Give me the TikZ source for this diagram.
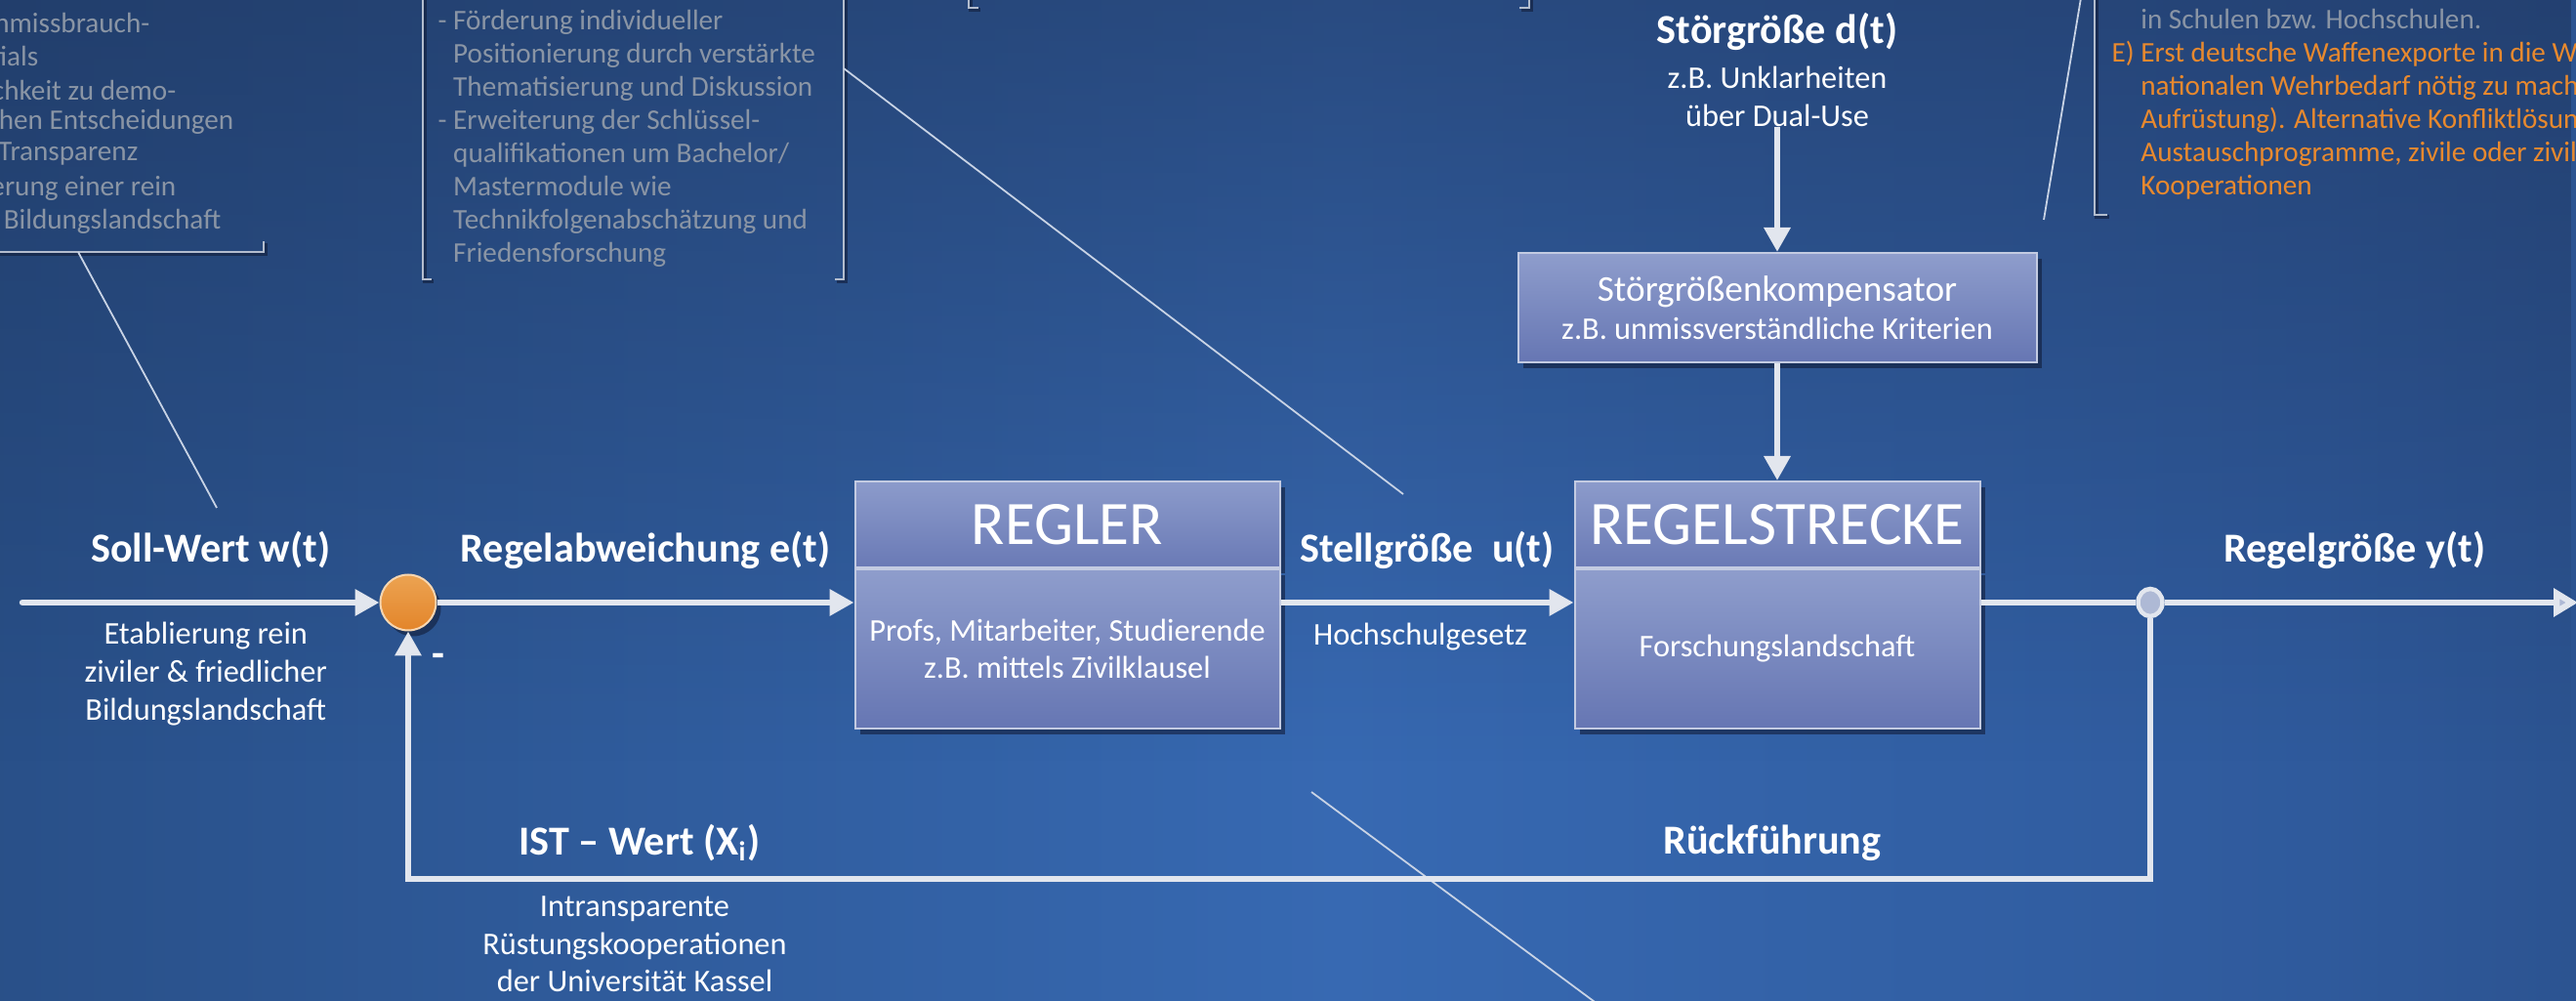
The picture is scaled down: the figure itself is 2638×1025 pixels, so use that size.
\documentclass[tikz,border=0pt]{standalone}
\usepackage{fontspec}
\setmainfont{Carlito}
\usetikzlibrary{positioning, arrows.meta, shapes.geometric, shadows, fadings}

\definecolor{bgl0}{HTML}{1A2B4C}
\definecolor{bgl1}{HTML}{24477A}
\definecolor{bgin}{HTML}{3769B2}
\definecolor{bgr1}{HTML}{2F5A9C}
\definecolor{bgr2}{HTML}{27497F}
\definecolor{bgr3}{HTML}{21396A}
\definecolor{bgr4}{HTML}{1C2F55}
\definecolor{bgtop}{HTML}{1B2D50}
\definecolor{flowgray}{HTML}{E2E6EE}
\definecolor{boxtop}{HTML}{8C9BCB}
\definecolor{boxbot}{HTML}{6676B3}
\definecolor{boxline}{HTML}{C3CBE2}
\definecolor{shadowblue}{HTML}{111C38}
\definecolor{sumtop}{HTML}{ECA352}
\definecolor{sumbot}{HTML}{E3852A}
\definecolor{notegray}{HTML}{8A95A5}
\definecolor{noteorange}{HTML}{E8892E}
\definecolor{bracketgray}{HTML}{B3BDCE}
\definecolor{dotfill}{HTML}{AEB9D5}

\pgfdeclarehorizontalshading{bgshade}{100bp}{color(0bp)=(bgl0); color(16bp)=(bgl1); color(51bp)=(bgin); color(70bp)=(bgr1); color(83bp)=(bgr2); color(92.5bp)=(bgr3); color(100bp)=(bgr4)}
\tikzfading[name=topfade, top color=transparent!50, bottom color=transparent!100]

\newcommand{\lblfont}{\fontsize{12}{14}\selectfont\bfseries}
\newcommand{\descfont}{\fontsize{9.2}{11}\selectfont}
\newcommand{\notefont}{\fontsize{8.3}{9.67}\selectfont}

\begin{document}
\begin{tikzpicture}[x=0.1mm, y=-0.1mm, >={Triangle[length=2.5mm,width=2.6mm]},
  flow/.style={draw=flowgray, line width=0.65mm},
  leader/.style={draw=flowgray!85!bgin, line width=0.18mm},
  bracket/.style={draw=bracketgray, line width=0.25mm},
  bracketshadow/.style={draw=shadowblue, line width=0.35mm, opacity=0.6},
  boxshadow/.style={drop shadow={shadow xshift=0.5mm, shadow yshift=-0.6mm, fill=shadowblue, opacity=0.6}},
  blockhead/.style={rectangle, draw=boxline, line width=0.2mm, top color=boxtop, bottom color=boxbot!90!boxtop, text=white, font=\fontsize{18}{20}\selectfont, inner sep=0pt, minimum height=8.8mm, boxshadow},
  blockbody/.style={rectangle, draw=boxline, line width=0.2mm, top color=boxtop!98!white, bottom color=boxbot, text=white, font=\descfont, align=center, inner sep=0pt, boxshadow},
  sumdot/.style={circle, minimum size=5.7mm, inner sep=0pt, draw=sumtop!45!white, line width=0.2mm, top color=sumtop, bottom color=sumbot, boxshadow},
  branchdot/.style={ellipse, minimum width=2.5mm, minimum height=2.8mm, inner sep=0pt, draw=flowgray, line width=0.45mm, fill=dotfill},
  lbl/.style={text=white, font=\lblfont, inner sep=0pt},
  desc/.style={text=white, font=\descfont, align=center, inner sep=0pt},
  notetext/.style={text=notegray, font=\notefont, inner sep=0pt}]

  \useasboundingbox (0,0) rectangle (2638,1025);
  \clip (0,0) rectangle (2638,1025);
  \shade[shading=bgshade] (0,0) rectangle (2638,1025);
  \fill[bgtop, path fading=topfade] (0,0) rectangle (2638,780);

  % notes at the top
  \draw[bracketshadow] (-20,260) -- (272,260) -- (272,249);
  \draw[bracket] (-20,258) -- (270,258) -- (270,247);
  \foreach \y/\r/\t in {23/154/nmissbrauch-, 57/40/tials, 92/181/chkeit zu demo-, 125/240/hen Entscheidungen, 158/142/Transparenz, 193/181/erung einer rein, 227/227/Bildungslandschaft}
    \node[notetext, anchor=east] (leftnote\y) at (\r,\y) {\t};

  \draw[bracketshadow] (435,-20) -- (435,288) -- (444,288);
  \draw[bracket] (433,-20) -- (433,286) -- (442,286);
  \draw[bracketshadow] (866,-20) -- (866,288) -- (857,288);
  \draw[bracket] (864,-20) -- (864,286) -- (855,286);
  \node[notetext, anchor=west, align=left] (midnote) at (448,142) {- Förderung individueller\\\phantom{- }Positionierung durch verstärkte\\\phantom{- }Thematisierung und Diskussion\\- Erweiterung der Schlüssel-\\\phantom{- }qualifikationen um Bachelor/\\\phantom{- }Mastermodule wie\\\phantom{- }Technikfolgenabschätzung und\\\phantom{- }Friedensforschung};

  \draw[bracketshadow] (994,-20) -- (994,10) -- (1004,10);
  \draw[bracket] (992,-20) -- (992,8) -- (1002,8);
  \draw[bracketshadow] (1568,-20) -- (1568,10) -- (1558,10);
  \draw[bracket] (1566,-20) -- (1566,8) -- (1556,8);

  \draw[bracketshadow] (2147,-20) -- (2147,222) -- (2160,222);
  \draw[bracket] (2145,-20) -- (2145,220) -- (2158,220);
  \node[notetext, text=noteorange, anchor=west, align=left] (rightnote) at (2162,106) {\textcolor{notegray}{\phantom{E) }in Schulen bzw. Hochschulen.}\\E) Erst deutsche Waffenexporte in die W\\\phantom{E) }nationalen Wehrbedarf nötig zu mach\\\phantom{E) }Aufrüstung). Alternative Konfliktlösun\\\phantom{E) }Austauschprogramme, zivile oder zivil\\\phantom{E) }Kooperationen};

  % pointers
  \coordinate (lead1a) at (80,258);    \coordinate (lead1b) at (222,520);
  \coordinate (lead2a) at (864,70);    \coordinate (lead2b) at (1437,506);
  \coordinate (lead3a) at (2134,-20);  \coordinate (lead3b) at (2093,225);
  \coordinate (lead4a) at (1343,811);  \coordinate (lead4b) at (1652,1040);
  \draw[leader] (lead1a) -- (lead1b);
  \draw[leader] (lead2a) -- (lead2b);
  \draw[leader] (lead3a) -- (lead3b);
  \draw[leader] (lead4a) -- (lead4b);

  % blocks
  \coordinate (wstart) at (23,617);
  \node[sumdot] (sum) at (418,617) {};
  \node[blockhead, minimum width=43.5mm] (regler) at (1093,537) {REGLER};
  \node[blockbody, minimum width=43.5mm, minimum height=16.3mm, below=0pt of regler] (reglerbody) {Profs, Mitarbeiter, Studierende\\z.B. mittels Zivilklausel};
  \node[blockhead, minimum width=41.5mm] (strecke) at (1820,537) {REGELSTRECKE};
  \node[blockbody, minimum width=41.5mm, minimum height=16.3mm, below=0pt of strecke] (streckebody) {Forschungslandschaft};
  \node[blockbody, minimum width=53.1mm, minimum height=11.2mm] (komp) at (1820,315) {{\fontsize{10.6}{12.8}\selectfont Störgrößenkompensator}\\z.B. unmissverständliche Kriterien};
  \node[lbl] (stoer) at (1820,32) {Störgröße d(t)};
  \node[desc] (stoerdesc) at (1820,99) {z.B. Unklarheiten\\über Dual-Use};
  \node[branchdot] (branch) at (2202,617) {};
  \coordinate (yend) at (2640,617);
  \coordinate (fbcorner) at (2202,900);

  \path[->, every edge/.style={flow}]
    (wstart) edge[line cap=round] node[lbl, yshift=5.4mm, xshift=1mm] (wlabel) {Soll-Wert w(t)} node[desc, yshift=-7.3mm, xshift=0.5mm] (wdesc) {Etablierung rein\\ziviler \& friedlicher\\Bildungslandschaft} (sum)
    (sum) edge node[lbl, yshift=5.4mm] (elabel) {Regelabweichung e(t)} (sum -| reglerbody.west)
    (reglerbody.east |- sum) edge node[lbl, yshift=5.4mm] (ulabel) {Stellgröße~~u(t)} node[desc, yshift=-3.5mm, xshift=-0.7mm] (udesc) {Hochschulgesetz} (streckebody.west |- sum)
    (stoerdesc) edge (komp)
    (komp) edge (strecke);
  \draw[flow] (streckebody.east |- sum) -- (branch);
  \draw[flow, -{Triangle[length=2.5mm,width=2.8mm,fill=dotfill]}] (branch) -- node[lbl, yshift=5.4mm, xshift=-1.7mm] (ylabel) {Regelgröße y(t)} (yend);
  \draw[flow, ->] (branch) -- (fbcorner) -| (sum);

  \node[lbl] (minus) at (449,676) {-};
  \node[lbl] (istwert) at (655,863) {IST – Wert (X\textsubscript{i})};
  \node[lbl] (rueck) at (1815,863) {Rückführung};
  \node[desc] (istdesc) at (650,967) {Intransparente\\Rüstungskooperationen\\der Universität Kassel};
\end{tikzpicture}
\end{document}
